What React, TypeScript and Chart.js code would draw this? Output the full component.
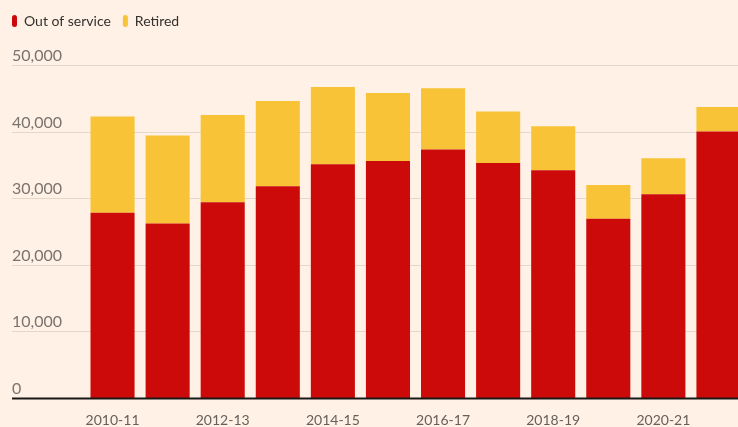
import React, { useEffect, useRef } from "react";
import { Chart, registerables } from "chart.js";

Chart.register(...registerables);

const categories = [
  "2010-11", "2011-12", "2012-13", "2013-14", "2014-15", "2015-16",
  "2016-17", "2017-18", "2018-19", "2019-20", "2020-21", "2021-22",
];
const outOfService = [27800, 26200, 29400, 31800, 35100, 35600, 37300, 35300, 34200, 26900, 30600, 40000];
const retired = [14450, 13200, 13100, 12800, 11600, 10200, 9200, 7700, 6600, 5100, 5400, 3700];
const yTicks = [0, 10000, 20000, 30000, 40000, 50000];

const FONT = "Lato, 'Open Sans', sans-serif";
const BG = "#fff1e5";

export default function App() {
  const ref = useRef<HTMLCanvasElement | null>(null);

  useEffect(() => {
    document.body.style.margin = "0";
    document.body.style.background = BG;
    const canvas = ref.current;
    if (!canvas) return;

    const gridPlugin = {
      id: "ftGrid",
      beforeDatasetsDraw(chart: any) {
        const ctx = chart.ctx;
        const y = chart.scales.y;
        ctx.save();
        ctx.font = `16px ${FONT}`;
        ctx.fillStyle = "#7a736e";
        ctx.textAlign = "left";
        ctx.textBaseline = "alphabetic";
        for (const v of yTicks) {
          const py = Math.round(y.getPixelForValue(v)) + 0.5;
          if (v !== 0) {
            ctx.strokeStyle = "#e4d8cd";
            ctx.lineWidth = 1;
            ctx.beginPath();
            ctx.moveTo(12, py);
            ctx.lineTo(chart.width, py);
            ctx.stroke();
          }
          ctx.fillText(v.toLocaleString("en-US"), 12, py - 5);
        }
        ctx.restore();
      },
      afterDatasetsDraw(chart: any) {
        const ctx = chart.ctx;
        const y = chart.scales.y;
        const py = y.getPixelForValue(0) + 0.5;
        ctx.save();
        ctx.strokeStyle = "#1a1817";
        ctx.lineWidth = 2;
        ctx.beginPath();
        ctx.moveTo(12, py);
        ctx.lineTo(chart.width, py);
        ctx.stroke();
        ctx.restore();
      },
    };

    const chart = new Chart(canvas, {
      type: "bar",
      data: {
        labels: categories,
        datasets: [
          {
            label: "Out of service",
            data: outOfService,
            backgroundColor: "#cc0a0a",
            borderWidth: 0,
          },
          {
            label: "Retired",
            data: retired,
            backgroundColor: "#f8c336",
            borderWidth: 0,
          },
        ],
      },
      options: {
        animation: false,
        responsive: false,
        devicePixelRatio: 1,
        layout: { padding: { top: 2, left: 0, right: 0, bottom: 0 } },
        datasets: {
          bar: { barPercentage: 0.8, categoryPercentage: 1 },
        },
        plugins: {
          legend: {
            position: "top",
            align: "start",
            labels: {
              boxWidth: 5,
              boxHeight: 12,
              useBorderRadius: true,
              borderRadius: 2.5,
              padding: 12,
              color: "#33302e",
              font: { family: FONT, size: 14 },
            },
          },
          tooltip: { enabled: false },
        },
        scales: {
          x: {
            stacked: true,
            grid: { display: false, drawTicks: false },
            border: { display: false },
            ticks: {
              autoSkip: false,
              maxRotation: 0,
              padding: 14,
              color: "#66605c",
              font: { family: FONT, size: 14 },
              callback: (_v: any, i: number) => (i % 2 === 0 ? categories[i] : ""),
            },
            afterFit: (s: any) => {
              s.height = 29;
            },
          },
          xTop: {
            type: "category",
            position: "top",
            display: true,
            grid: { display: false, drawTicks: false },
            border: { display: false },
            ticks: { display: false },
            afterFit: (s: any) => {
              s.height = 27;
            },
          },
          y: {
            stacked: true,
            min: 0,
            max: 50000,
            grid: { display: false },
            border: { display: false },
            ticks: { display: false, stepSize: 10000 },
            afterFit: (s: any) => {
              s.width = 85;
            },
          },
        },
      },
      plugins: [gridPlugin],
    });

    return () => chart.destroy();
  }, []);

  return (
    <div style={{ width: 738, height: 427, overflow: "hidden", background: BG, position: "relative" }}>
      <canvas ref={ref} width={746} height={427} style={{ display: "block", width: 746, height: 427 }} />
    </div>
  );
}
